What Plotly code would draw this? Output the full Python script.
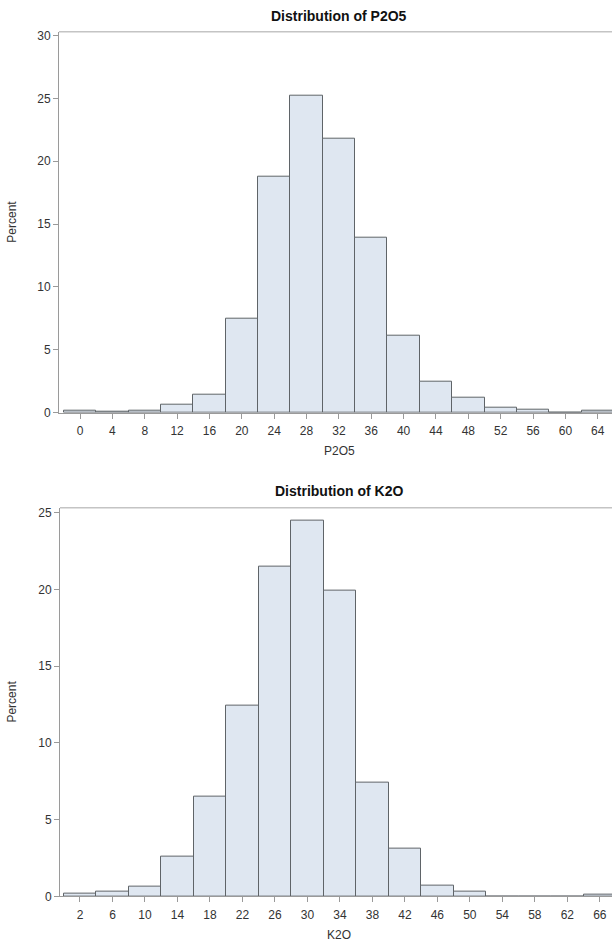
import plotly.graph_objects as go

# ---- data ----
p2o5_bins = [0, 4, 8, 12, 16, 20, 24, 28, 32, 36, 40, 44, 48, 52, 56, 60, 64]
p2o5_pct = [0.16, 0.08, 0.18, 0.6, 1.42, 7.5, 18.8, 25.25, 21.8, 13.9, 6.1, 2.5, 1.18, 0.42, 0.26, 0.0, 0.18]

k2o_bins = [2, 6, 10, 14, 18, 22, 26, 30, 34, 38, 42, 46, 50, 54, 58, 62, 66]
k2o_pct = [0.17, 0.32, 0.64, 2.58, 6.5, 12.4, 21.5, 24.5, 19.9, 7.4, 3.1, 0.7, 0.32, 0.0, 0.0, 0.0, 0.1]

W, H = 612, 950
FILL = "#dfe7f1"
EDGE = "#5f6468"
AXIS = "#9a9a9a"
FONT = "Liberation Sans, Arial, sans-serif"

def py(px):
    return 1 - px / H

fig = go.Figure()
fig.add_trace(go.Bar(x=p2o5_bins, y=p2o5_pct, width=4, marker=dict(color=FILL, line=dict(color=EDGE, width=1)),
                     xaxis="x", yaxis="y", showlegend=False))
fig.add_trace(go.Bar(x=k2o_bins, y=k2o_pct, width=4, marker=dict(color=FILL, line=dict(color=EDGE, width=1)),
                     xaxis="x2", yaxis="y2", showlegend=False))

axis_common = dict(showgrid=False, zeroline=False, showline=True, linecolor=AXIS, linewidth=1,
                   ticks="outside", ticklen=5, tickcolor=AXIS,
                   tickfont=dict(family=FONT, size=12, color="#333333"))

fig.update_layout(
    width=W, height=H, margin=dict(l=0, r=0, t=0, b=0),
    paper_bgcolor="white", plot_bgcolor="white", bargap=0,
    xaxis=dict(domain=[59 / W, 1], range=[-2.6, 65.76], tickvals=p2o5_bins, anchor="y",
               ticklabelstandoff=2, **axis_common),
    yaxis=dict(domain=[py(414), py(29)], range=[0, 30.31], tickvals=[0, 5, 10, 15, 20, 25, 30], anchor="x",
               **axis_common),
    xaxis2=dict(domain=[60 / W, 1], range=[-0.46, 67.5], tickvals=k2o_bins, anchor="y2",
                ticklabelstandoff=2, **axis_common),
    yaxis2=dict(domain=[py(903), py(510)], range=[0, 25.32], tickvals=[0, 5, 10, 15, 20, 25], anchor="x2",
                **axis_common),
)

# top frame lines
for y, x0 in ((29, 59), (510, 60)):
    fig.add_shape(type="line", xref="paper", yref="paper", x0=x0 / W, x1=1,
                  y0=py(y), y1=py(y), line=dict(color="#c4c4c4", width=1.5))

ann = [
    dict(text="<b>Distribution of P2O5</b>", x=339 / W, y=py(13)),
    dict(text="<b>Distribution of K2O</b>", x=339 / W, y=py(493)),
]
for a in ann:
    a.update(xref="paper", yref="paper", showarrow=False, xanchor="center", yanchor="middle",
             font=dict(family=FONT, size=14, color="#111111"))
labels = [
    dict(text="P2O5", x=339 / W, y=py(453)),
    dict(text="K2O", x=339 / W, y=py(942)),
    dict(text="Percent", x=12 / W, y=py(221), textangle=-90),
    dict(text="Percent", x=12 / W, y=py(706), textangle=-90),
]
for a in labels:
    a.update(xref="paper", yref="paper", showarrow=False, xanchor="center", yanchor="middle",
             font=dict(family=FONT, size=12, color="#333333"))
fig.update_layout(annotations=ann + labels)

fig.write_html("out.html", config={"displayModeBar": False},
               post_script="document.body.style.margin='0px';document.body.style.overflow='hidden';")
